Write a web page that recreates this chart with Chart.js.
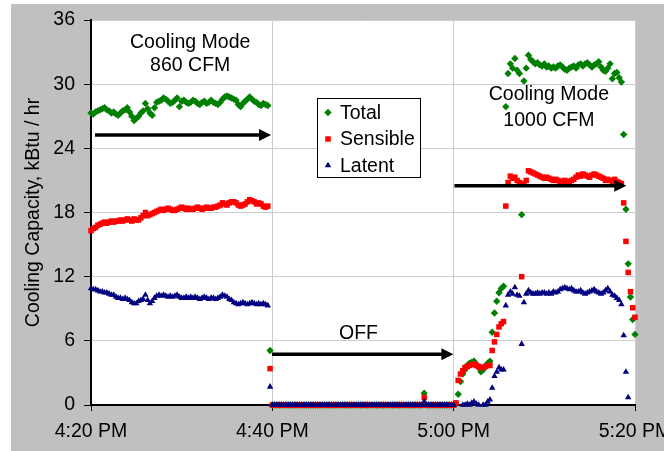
<!DOCTYPE html>
<html><head><meta charset="utf-8">
<style>html,body{margin:0;padding:0;background:#fff;overflow:hidden}</style>
<script src="https://cdn.jsdelivr.net/npm/chart.js@4.4.1/dist/chart.umd.min.js"></script>
</head><body>
<canvas id="c" width="664" height="451" style="display:block;width:664px;height:451px"></canvas>
<script>
// Logged every 15 s; x = minutes after 4:20 PM
const sampleStepMin = 0.25;
const xTickLabels = ['4:20 PM', '4:40 PM', '5:00 PM', '5:20 PM'];
const seriesNames = ['Total', 'Sensible', 'Latent'];
const yAxisTitle = 'Cooling Capacity, kBtu / hr';

const totalKBtu = [
 27.3,27.2,27.4,27.5,27.6,27.7,27.8,27.6,27.5,27.3,
 27.4,27.2,27.1,27.3,27.5,27.6,27.8,27.4,27.0,26.6,
 26.8,27.0,27.3,27.5,28.2,27.7,27.3,27.1,27.8,28.3,
 28.4,28.5,28.7,28.6,28.4,28.2,28.3,28.5,28.7,27.9,
 28.4,28.5,28.3,28.2,28.3,28.5,28.4,28.2,28.1,28.3,
 28.4,28.2,28.3,28.5,28.3,28.2,28.1,28.3,28.6,28.8,
 28.9,28.8,28.7,28.6,28.5,28.1,27.9,28.2,28.4,28.6,
 28.8,28.6,28.4,28.3,28.1,28.0,28.2,28.1,28.0,5.1,
 0,0,0,0,0,0,0,0,0,0,
 0,0,0,0,0,0,0,0,0,0,
 0,0,0,0,0,0,0,0,0,0,
 0,0,0,0,0,0,0,0,0,0,
 0,0,0,0,0,0,0,0,0,0,
 0,0,0,0,0,0,0,0,0,0,
 0,0,0,0,0,0,0,1.1,0,0,
 0,0,0,0,0,0,0,0,0,0,
 0,0.1,1.0,2.2,2.9,3.3,3.7,3.9,4.0,4.1,
 3.8,3.5,3.1,3.3,3.6,3.9,4.1,6.8,8.6,9.7,
 10.5,10.9,11.1,27.9,31.0,31.9,31.5,32.4,31.3,31.0,
 17.8,30.3,31.5,32.7,32.3,32.1,31.9,32.0,31.8,31.7,
 31.9,31.6,31.7,31.5,31.6,31.5,31.7,31.8,31.6,31.4,
 31.3,31.5,31.6,31.7,31.5,31.8,31.9,31.7,31.9,32.0,
 31.8,31.6,31.8,31.9,32.1,31.6,31.3,31.2,31.5,31.9,
 30.5,31.0,31.1,30.6,30.2,25.3,18.3,13.2,10.1,8.0,
 6.6,5.3
];
const sensibleKBtu = [
 16.3,16.5,16.6,16.8,16.9,17.0,17.1,17.0,17.1,17.2,
 17.1,17.2,17.2,17.3,17.2,17.3,17.4,17.3,17.2,17.4,
 17.3,17.3,17.5,17.7,18.0,17.7,17.8,17.9,18.0,18.1,
 18.2,18.3,18.2,18.3,18.4,18.3,18.2,18.2,18.3,18.4,
 18.5,18.4,18.3,18.4,18.3,18.3,18.4,18.5,18.4,18.3,
 18.4,18.5,18.4,18.4,18.5,18.5,18.6,18.7,18.9,18.8,
 18.7,18.9,19.0,19.0,18.9,18.7,18.6,18.7,18.8,19.0,
 19.2,19.1,19.0,18.8,18.9,18.8,18.6,18.5,18.6,3.4,
 0,0,0,0,0,0,0,0,0,0,
 0,0,0,0,0,0,0,0,0,0,
 0,0,0,0,0,0,0,0,0,0,
 0,0,0,0,0,0,0,0,0,0,
 0,0,0,0,0,0,0,0,0,0,
 0,0,0,0,0,0,0,0,0,0,
 0,0,0,0,0,0,0,0.7,0,0,
 0,0,0,0,0,0,0,0,0,0,
 0,0.2,2.3,2.9,3.2,3.5,3.6,3.7,3.8,3.8,
 3.7,3.6,3.5,3.5,3.6,3.7,3.7,5.1,5.9,6.6,
 7.3,7.6,7.8,18.6,20.8,21.4,21.2,21.3,21.0,20.8,
 12.0,20.7,21.0,21.9,21.8,21.7,21.6,21.5,21.4,21.3,
 21.2,21.3,21.2,21.1,21.0,21.1,21.0,20.9,20.9,21.0,
 20.9,20.9,21.0,21.1,21.3,21.5,21.4,21.6,21.5,21.4,
 21.3,21.5,21.6,21.5,21.4,21.3,21.2,21.0,21.1,21.0,
 20.9,21.1,20.9,20.8,20.7,18.9,15.3,12.4,10.6,9.1,
 8.2,6.7
];
// null = below the axis minimum (not visible)
const latentKBtu = [
 10.9,10.8,10.8,10.7,10.6,10.6,10.5,10.5,10.4,10.3,
 10.3,10.1,10.0,10.0,9.9,10.0,9.9,9.8,9.6,9.5,
 9.5,9.7,9.8,9.9,10.3,9.8,9.5,9.7,10.0,10.2,
 10.3,10.2,10.3,10.2,10.1,10.2,10.1,10.2,10.3,10.1,
 10.0,10.0,10.1,10.0,10.1,10.0,10.1,10.0,9.9,10.0,
 10.1,10.0,9.9,10.0,10.0,9.9,10.0,10.1,10.3,10.2,
 10.1,9.9,9.8,9.6,9.5,9.4,9.5,9.6,9.5,9.4,
 9.5,9.6,9.5,9.4,9.5,9.4,9.5,9.4,9.3,1.7,
 0,0,0,0,0,0,0,0,0,0,
 0,0,0,0,0,0,0,0,0,0,
 0,0,0,0,0,0,0,0,0,0,
 0,0,0,0,0,0,0,0,0,0,
 0,0,0,0,0,0,0,0,0,0,
 0,0,0,0,0,0,0,0,0,0,
 0,0,0,0,0,0,0,0.3,0,0,
 0,0,0,0,0,0,0,0,0,0,
 0,null,null,null,0,0,0.1,0,0.2,0.3,
 0.1,0,null,0,0,0.3,0.5,1.6,2.7,3.1,
 3.5,3.3,3.3,9.3,10.3,10.6,10.4,11.0,10.3,10.2,
 5.7,9.6,10.4,10.7,10.5,10.4,10.4,10.5,10.4,10.5,
 10.5,10.4,10.5,10.4,10.6,10.5,10.6,10.8,10.9,11.0,
 10.9,10.8,10.9,10.7,10.6,10.6,10.7,10.5,10.4,10.5,
 10.6,10.7,10.8,10.6,10.5,10.4,10.5,10.7,10.9,10.6,
 10.3,10.2,10.0,9.8,9.4,6.5,3.1,0.7,null,null,
 null,null
];

const FONT = "'Liberation Sans', Arial, sans-serif";
const FS = 19.5;
const colors = ['#008000', '#ff0000', '#000080'];
const styles = ['rectRot', 'rect', 'triangle'];
const radii = [3.7, 3.9, 3.7];

const toPoints = arr => arr.map((v, i) => ({x: i * sampleStepMin, y: v}));

const annotations = {
  texts: [
    {t: 'Cooling Mode', x: 10.94, y: 33.85},
    {t: '860 CFM', x: 10.94, y: 31.75},
    {t: 'Cooling Mode', x: 50.5, y: 29.0},
    {t: '1000 CFM', x: 50.5, y: 26.6},
    {t: 'OFF', x: 29.5, y: 6.69}
  ],
  arrows: [
    {x1: 0.44, x2: 19.86, y: 25.25},
    {x1: 19.97, x2: 39.97, y: 4.74},
    {x1: 40.08, x2: 59.04, y: 20.5}
  ]
};

const bgPlugin = {
  id: 'bg',
  beforeDraw(chart) {
    const {ctx, chartArea: a} = chart;
    ctx.save();
    ctx.fillStyle = '#ffffff';
    ctx.fillRect(0, 0, chart.width, chart.height);
    ctx.fillStyle = '#c0c0c0';
    ctx.fillRect(11, 4, chart.width - 11, chart.height - 4);
    ctx.fillStyle = '#ffffff';
    ctx.fillRect(a.left, a.top, a.right - a.left, a.bottom - a.top);
    ctx.restore();
  }
};

const annoPlugin = {
  id: 'anno',
  afterDatasetsDraw(chart) {
    const {ctx, scales: {x, y}} = chart;
    ctx.save();
    ctx.fillStyle = '#000';
    ctx.strokeStyle = '#000';
    ctx.font = FS + 'px ' + FONT;
    ctx.textAlign = 'center';
    ctx.textBaseline = 'middle';
    annotations.texts.forEach(o => ctx.fillText(o.t, x.getPixelForValue(o.x), y.getPixelForValue(o.y)));
    annotations.arrows.forEach(o => {
      const px1 = x.getPixelForValue(o.x1), px2 = x.getPixelForValue(o.x2), py = y.getPixelForValue(o.y);
      const head = 12, hw = 6;
      ctx.lineWidth = 3.5;
      ctx.beginPath();
      ctx.moveTo(px1, py);
      ctx.lineTo(px2 - head + 1, py);
      ctx.stroke();
      ctx.beginPath();
      ctx.moveTo(px2, py);
      ctx.lineTo(px2 - head, py - hw);
      ctx.lineTo(px2 - head, py + hw);
      ctx.closePath();
      ctx.fill();
    });
    ctx.restore();
  },
  afterDraw(chart) {
    const {ctx} = chart;
    const bx = 317.5, by = 98.5, bw = 103, bh = 79;
    ctx.save();
    ctx.fillStyle = '#fff';
    ctx.fillRect(bx, by, bw, bh);
    ctx.strokeStyle = '#000';
    ctx.lineWidth = 1;
    ctx.strokeRect(bx, by, bw, bh);
    ctx.font = FS + 'px ' + FONT;
    ctx.textAlign = 'left';
    ctx.textBaseline = 'middle';
    const rows = [112.5, 139, 165.5];
    seriesNames.forEach((name, k) => {
      const opts = {pointStyle: styles[k], radius: radii[k], borderWidth: 0, rotation: 0};
      ctx.fillStyle = colors[k];
      ctx.strokeStyle = colors[k];
      Chart.helpers.drawPoint(ctx, opts, 328, rows[k]);
      ctx.fillStyle = '#000';
      ctx.fillText(name, 340, rows[k] + 1);
    });
    ctx.restore();
  }
};

const zeroPad = s => { s.paddingLeft = 0; s.paddingRight = 0; s.paddingTop = 0; s.paddingBottom = 0; };

new Chart(document.getElementById('c'), {
  type: 'scatter',
  data: {
    datasets: [totalKBtu, sensibleKBtu, latentKBtu].map((arr, k) => ({
      label: seriesNames[k],
      data: toPoints(arr),
      pointStyle: styles[k],
      pointRadius: radii[k],
      pointBorderWidth: 0,
      backgroundColor: colors[k],
      borderColor: colors[k],
      order: 3 - k,
      clip: false
    }))
  },
  options: {
    responsive: false,
    devicePixelRatio: 1,
    animation: false,
    layout: {padding: {left: 0, top: 20, right: 29, bottom: 0}},
    plugins: {legend: {display: false}, tooltip: {enabled: false}},
    scales: {
      x: {
        type: 'linear', min: 0, max: 60,
        afterFit: s => { s.height = 46; zeroPad(s); },
        ticks: {stepSize: 20, padding: 9, color: '#000', maxRotation: 0, autoSkip: false,
          font: {family: FONT, size: FS},
          callback: v => xTickLabels[Math.round(v / 20)]},
        grid: {color: '#cccccc', tickColor: '#000', tickLength: 6, lineWidth: 1},
        border: {color: '#000', width: 2}
      },
      y: {
        type: 'linear', min: 0, max: 36,
        afterFit: s => { s.width = 91; zeroPad(s); },
        ticks: {stepSize: 6, padding: 9, color: '#000', font: {family: FONT, size: FS}},
        grid: {color: '#cccccc', tickColor: '#000', tickLength: 7, lineWidth: 1},
        border: {color: '#000', width: 2},
        title: {display: true, text: yAxisTitle, color: '#000', font: {family: FONT, size: FS}, padding: {top: 22, bottom: 0}}
      }
    }
  },
  plugins: [bgPlugin, annoPlugin]
});
</script>
</body></html>
